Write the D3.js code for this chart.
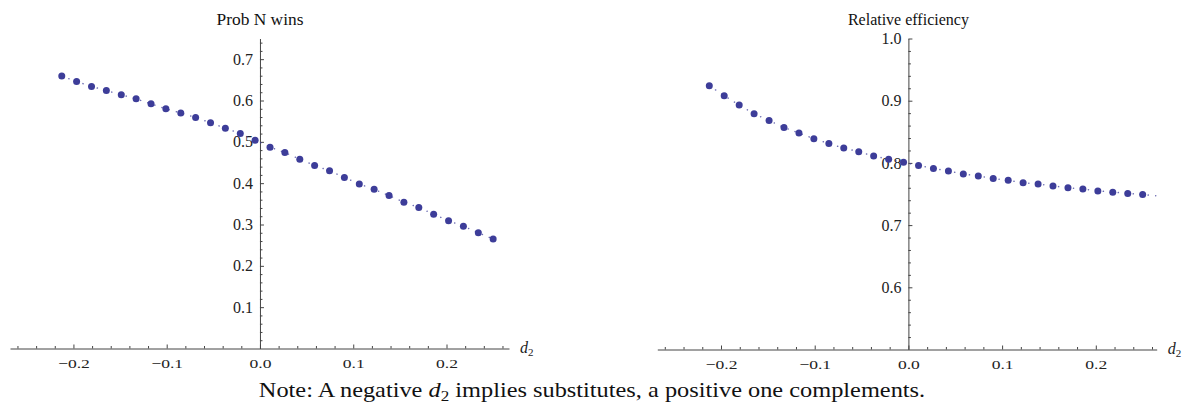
<!DOCTYPE html>
<html>
<head>
<meta charset="utf-8">
<script src="https://cdn.jsdelivr.net/npm/d3@7"></script>
<style>
  body { margin: 0; background: #fff; }
  text { font-family: "Liberation Serif", "Times New Roman", serif; }
</style>
</head>
<body>
<svg id="chart"></svg>
<script>
// d2 values (shared by both panels)
const d2 = [-0.2125, -0.1966, -0.1806, -0.1647, -0.1487, -0.1328, -0.1168, -0.1009,
  -0.0849, -0.0690, -0.0530, -0.0371, -0.0211, -0.0052, 0.0108, 0.0267, 0.0427,
  0.0586, 0.0746, 0.0905, 0.1065, 0.1224, 0.1384, 0.1543, 0.1703, 0.1862, 0.2022,
  0.2181, 0.2341, 0.2500];

// Prob N wins
const probN = [0.659, 0.646, 0.634, 0.624, 0.614, 0.604, 0.592, 0.580, 0.570, 0.559,
  0.546, 0.533, 0.520, 0.504, 0.487, 0.474, 0.458, 0.443, 0.430, 0.414,
  0.398, 0.385, 0.370, 0.354, 0.341, 0.325, 0.309, 0.296, 0.280, 0.265];

// Relative efficiency
const relEff = [0.924, 0.908, 0.893, 0.879, 0.868, 0.857, 0.848, 0.839, 0.831, 0.824,
  0.818, 0.811, 0.806, 0.801, 0.796, 0.791, 0.787, 0.782, 0.779, 0.775,
  0.772, 0.768, 0.766, 0.763, 0.760, 0.758, 0.755, 0.753, 0.751, 0.749];
// the dotted curve on the right runs a little past the last point
const relEffTail = { x: 0.266, y: 0.747 };

const xTicks = [-0.2, -0.1, 0.0, 0.1, 0.2];
const xTickLabels = ["\u22120.2", "\u22120.1", "0.0", "0.1", "0.2"];
const probTicks = [0.1, 0.2, 0.3, 0.4, 0.5, 0.6, 0.7];
const effTicks = [0.6, 0.7, 0.8, 0.9, 1.0];

const width = 1183, height = 410;
const ptColor = "#3d3d99";

const svg = d3.select("#chart")
    .attr("width", width)
    .attr("height", height);

// the text in the picture is set wider than the font, so stretch it to the measured width
function fitWidth(sel, w) {
    const len = sel.node().getComputedTextLength();
    const cx = +sel.attr("x");
    sel.attr("transform", `translate(${cx},0) scale(${w / len},1) translate(${-cx},0)`);
}

function panel(opts) {
    const x = d3.scaleLinear().domain(opts.xDomain).range(opts.xRange);
    const y = d3.scaleLinear().domain(opts.yDomain).range(opts.yRange);
    const x0 = x(0);
    const yBase = opts.yRange[0];
    const g = svg.append("g");

    // minor ticks
    const xMinor = d3.range(-26, 27, 2).filter(v => v % 10 !== 0).map(v => v / 100);
    g.append("g")
        .attr("transform", `translate(0,${yBase})`)
        .call(d3.axisBottom(x).tickValues(xMinor).tickSizeInner(-2.5).tickSizeOuter(0).tickFormat(""))
        .call(a => a.select(".domain").remove());
    const yMinor = d3.range(Math.round(opts.yDomain[0] * 100) + 2, Math.round(opts.yDomain[1] * 100), 2)
        .filter(v => v % 10 !== 0).map(v => v / 100);
    g.append("g")
        .attr("transform", `translate(${x0},0)`)
        .call(d3.axisLeft(y).tickValues(yMinor).tickSizeInner(-2.5).tickSizeOuter(0).tickFormat(""))
        .call(a => a.select(".domain").remove());

    // x axis
    const xa = g.append("g")
        .attr("transform", `translate(0,${yBase})`)
        .call(d3.axisBottom(x).tickValues(xTicks).tickSizeInner(-4).tickSizeOuter(0).tickPadding(10)
            .tickFormat((d, i) => xTickLabels[i]));
    xa.selectAll("text").attr("font-size", 13).attr("fill", "#222")
        .attr("font-family", "Liberation Serif, serif")
        .attr("transform", "scale(1.35,1)");

    // y axis
    const ya = g.append("g")
        .attr("transform", `translate(${x0},0)`)
        .call(d3.axisLeft(y).tickValues(opts.yTicks).tickSizeInner(-4).tickSizeOuter(0).tickPadding(7)
            .tickFormat(d3.format(".1f")));
    ya.selectAll("text").attr("font-size", 16).attr("fill", "#222")
        .attr("font-family", "Liberation Serif, serif");

    g.selectAll(".domain, .tick line").attr("stroke", "#444").attr("stroke-width", 1);

    // title
    const t = g.append("text")
        .attr("x", x0).attr("y", 25)
        .attr("text-anchor", "middle")
        .attr("font-size", 16)
        .attr("fill", "#111")
        .text(opts.title);
    fitWidth(t, opts.titleWidth);

    // axis label d2
    const lab = g.append("text")
        .attr("x", opts.xRange[1] + 11).attr("y", yBase + 4)
        .attr("font-size", 16).attr("fill", "#222");
    lab.append("tspan").attr("font-style", "italic").text("d");
    lab.append("tspan").attr("font-size", 11).attr("dy", 3).text("2");

    // dotted curve and points
    const pts = d2.map((v, i) => ({ x: v, y: opts.values[i] }));
    const linePts = opts.tail ? pts.concat([opts.tail]) : pts;
    g.append("path")
        .datum(linePts)
        .attr("fill", "none")
        .attr("stroke", ptColor)
        .attr("stroke-opacity", 0.75)
        .attr("stroke-width", 1.5)
        .attr("stroke-linecap", "round")
        .attr("stroke-dasharray", "0.1,7.4")
        .attr("d", d3.line().x(d => x(d.x)).y(d => y(d.y)));

    g.selectAll("circle")
        .data(pts)
        .enter().append("circle")
        .attr("cx", d => x(d.x))
        .attr("cy", d => y(d.y))
        .attr("r", 3.5)
        .attr("fill", ptColor);
}

panel({
    title: "Prob N wins", titleWidth: 87,
    xDomain: [-0.268, 0.267], xRange: [10, 509],
    yDomain: [0, 0.75], yRange: [348.5, 38.5],
    yTicks: probTicks,
    values: probN
});

panel({
    title: "Relative efficiency", titleWidth: 121,
    xDomain: [-0.268, 0.265], xRange: [657.3, 1156.7],
    yDomain: [0.5, 1.0], yRange: [349.5, 38.5],
    yTicks: effTicks,
    values: relEff,
    tail: relEffTail
});

// note
const note = svg.append("text")
    .attr("x", 592).attr("y", 397)
    .attr("text-anchor", "middle")
    .attr("font-size", 20)
    .attr("fill", "#111");
note.append("tspan").text("Note: A negative ");
note.append("tspan").attr("font-style", "italic").text("d");
note.append("tspan").attr("font-size", 14).attr("dy", 4).text("2");
note.append("tspan").attr("dy", -4).text(" implies substitutes, a positive one complements.");
fitWidth(note, 667);
</script>
</body>
</html>
